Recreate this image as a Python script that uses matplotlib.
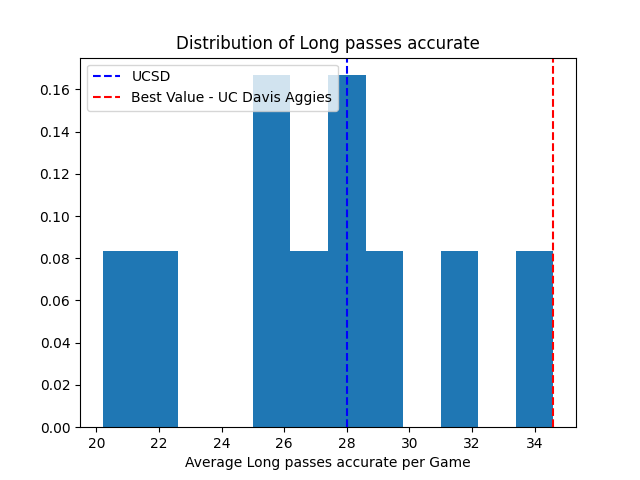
import matplotlib
matplotlib.use("Agg")
import matplotlib.pyplot as plt

# per-game averages for each team
values = [20.2, 22.0, 25.3, 25.8, 26.8, 27.9, 28.0, 29.2, 31.5, 34.6]
ucsd_value = 28.0
best_value = 34.6
best_team = "UC Davis Aggies"
stat = "Long passes accurate"

plt.figure(figsize=(6.4, 4.8))
plt.hist(values, bins=12, density=True)
plt.axvline(ucsd_value, color='blue', linestyle='--', label='UCSD')
plt.axvline(best_value, color='red', linestyle='--', label=f'Best Value - {best_team}')
plt.title(f'Distribution of {stat}')
plt.xlabel(f'Average {stat} per Game')
plt.legend(loc='upper left')
plt.savefig('out.png', dpi=100)
